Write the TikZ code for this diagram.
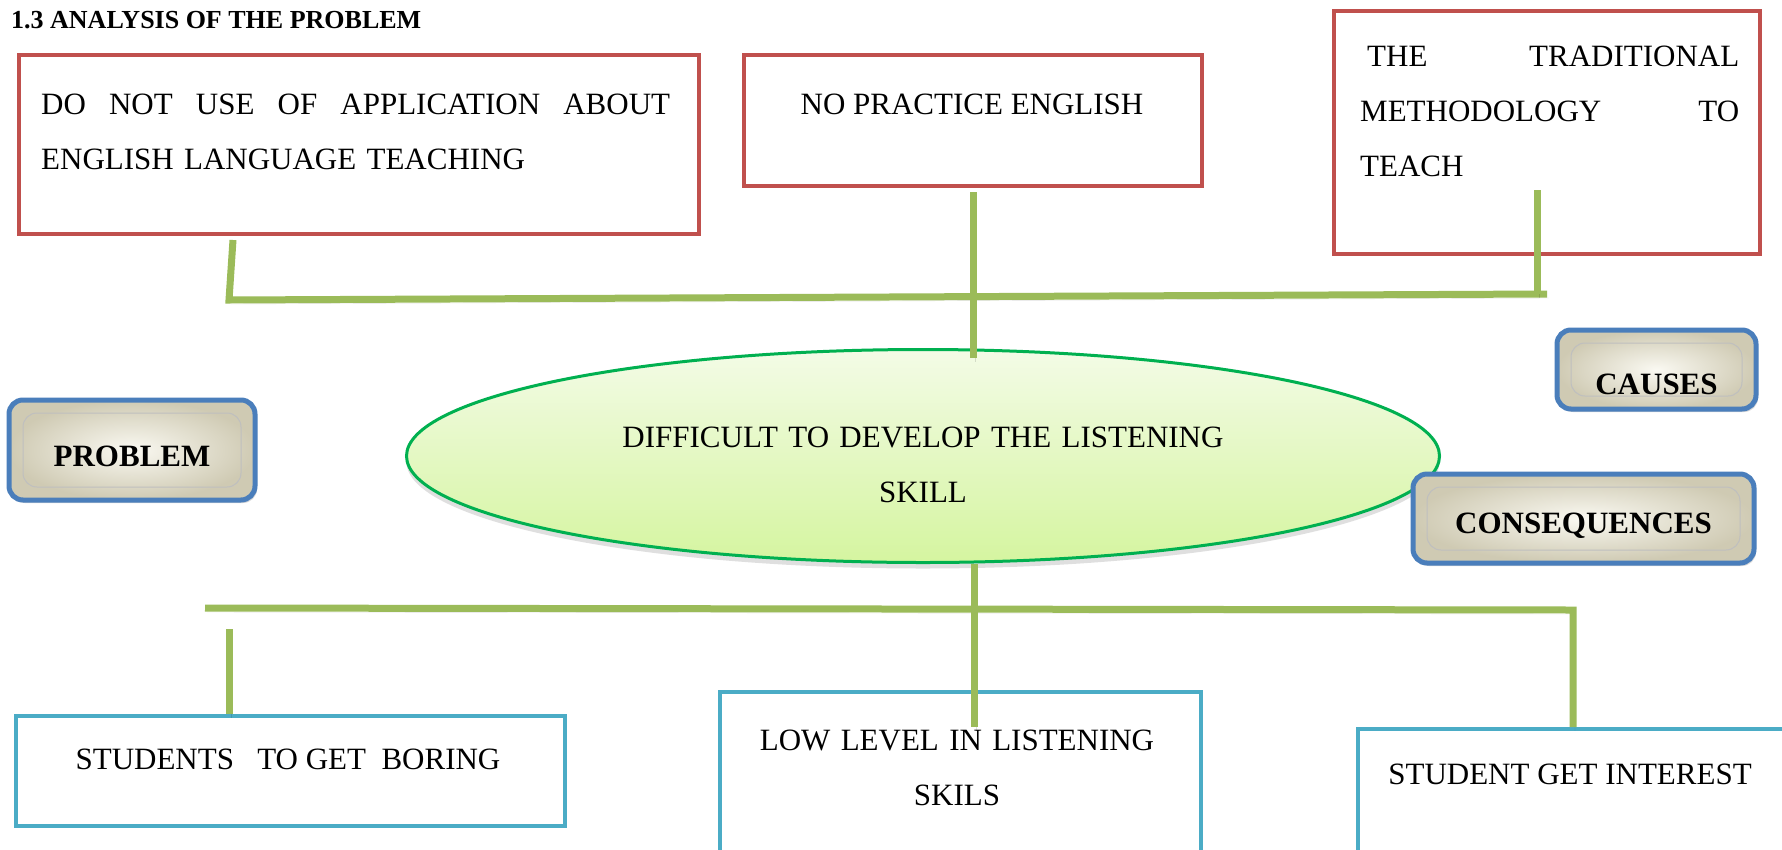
\documentclass[tikz,border=0pt]{standalone}
\usepackage{fontspec}
\setmainfont{Liberation Serif}
\usetikzlibrary{positioning,calc,shapes.geometric,shadows}

\definecolor{causered}{HTML}{C0504D}
\definecolor{effectblue}{HTML}{4BACC6}
\definecolor{wiregreen}{HTML}{9BBB59}
\definecolor{tagblue}{HTML}{4A7EBB}
\definecolor{tagin}{HTML}{FAF9F2}
\definecolor{tagout}{HTML}{CFCAB3}
\definecolor{coreline}{HTML}{00B050}
\definecolor{coretop}{HTML}{F3FBE6}
\definecolor{corebot}{HTML}{D5F5A0}

\begin{document}
\begin{tikzpicture}[x=1pt,y=-1pt]

\tikzset{every node/.style = {inner sep=0pt, font=\fontsize{31}{55}\selectfont}}
\tikzstyle{cause}  = [rectangle, draw=causered, line width=4pt, anchor=north west]
\tikzstyle{effect} = [rectangle, draw=effectblue, line width=4pt, anchor=north west]
\tikzstyle{txt}    = [anchor=base]
\tikzstyle{core}   = [ellipse, draw=coreline, line width=3pt, top color=coretop, bottom color=corebot,
                      minimum width=1033pt, minimum height=213pt, text width=640pt, align=center,
                      text height=37pt, text depth=55pt,
                      drop shadow={shadow xshift=0pt, shadow yshift=-6pt, opacity=0.25}]
\tikzstyle{tag}    = [rectangle, rounded corners=14pt, draw=tagblue, line width=5pt,
                      inner color=tagin, outer color=tagout, font=\fontsize{31}{36}\selectfont\bfseries,
                      drop shadow={shadow xshift=2pt, shadow yshift=-3pt, opacity=0.3},
                      path picture={\draw[black!25, line width=1pt]
                        ([shift={(14pt,13pt)}]path picture bounding box.south west) rectangle
                        ([shift={(-14pt,-13pt)}]path picture bounding box.north east);}]
\tikzstyle{wire}   = [draw=wiregreen, line width=7pt,
                      preaction={draw=black, opacity=0.12, transform canvas={shift={(2pt,-4pt)}}}]

\clip (0,0) rectangle (1782,849);
\fill[white] (0,0) rectangle (1782,849);

\node[anchor=base west, font=\fontsize{26}{30}\selectfont\bfseries] (title) at (11,28) {1.3 ANALYSIS OF THE PROBLEM};

\node[cause, minimum width=680pt, minimum height=179pt]  (no_app)   at (17,53)   {};
\node[cause, minimum width=458pt, minimum height=131pt]  (no_prac)  at (742,53)  {};
\node[cause, minimum width=426pt, minimum height=243pt]  (trad)     at (1332,9)  {};
\node[effect, minimum width=549pt, minimum height=110pt] (boring)   at (14,714)  {};
\node[effect, minimum width=481pt, minimum height=161pt] (low)      at (718,690) {};
\node[effect, minimum width=434pt, minimum height=124pt] (interest) at (1356,727) {};

\node[core] (core) at (923,456) {DIFFICULT TO DEVELOP THE LISTENING\\SKILL};

\node[tag, minimum width=246pt, minimum height=100pt, text height=34pt] (problem) at (132,450)      {PROBLEM};
\node[tag, minimum width=199pt, minimum height=79pt,  text height=50pt] (causes)  at (1656.5,369.5) {CAUSES};
\node[tag, minimum width=341pt, minimum height=89pt,  text height=35pt] (conseq)  at (1583.5,518.5) {CONSEQUENCES};

\coordinate (no_app_drop) at (233,240);
\coordinate (bus_t_l)     at (229,300);
\coordinate (bus_t_r)     at (1547,294);
\coordinate (trad_drop)   at (1537,190);
\coordinate (bus_b_l)     at (205,608);
\coordinate (bus_b_r)     at (1573,610);
\coordinate (boring_drop) at (229,629);
\coordinate (low_drop)    at (974,727);

\draw[wire] (no_app_drop) -- (bus_t_l) -- (bus_t_r);
\draw[wire] ($(no_prac.south)+(0,4)$) -- ($(no_prac.south |- core.north)+(0,10)$);
\draw[wire] (trad_drop) -- (trad_drop |- bus_t_r);
\draw[wire] (bus_b_l) -- (bus_b_r) -- (bus_b_r |- interest.north);
\draw[wire] (core.south -| low_drop) -- (low_drop);
\draw[wire] (boring_drop) -- (boring_drop |- boring.north);

\node[txt, anchor=base west, text width=629pt, align=left] (no_app_txt) at (41,114)
  {DO\hfill NOT\hfill USE\hfill OF\hfill APPLICATION\hfill ABOUT\\ENGLISH LANGUAGE TEACHING};
\node[txt]                                                  (no_prac_txt)  at (972,114)  {NO PRACTICE ENGLISH};
\node[txt, anchor=base west, text width=379pt, align=left] (trad_txt)     at (1360,66)
  {\hspace*{7pt}THE\hfill TRADITIONAL\\METHODOLOGY\hfill TO\\TEACH};
\node[txt]                                                  (boring_txt)   at (288,769)  {STUDENTS\ \ \ TO GET\ \ BORING};
\node[txt, text width=430pt, align=center]                  (low_txt)      at (957,750)  {LOW LEVEL IN LISTENING\\SKILS};
\node[txt]                                                  (interest_txt) at (1570,784) {STUDENT GET INTEREST};

\end{tikzpicture}
\end{document}
